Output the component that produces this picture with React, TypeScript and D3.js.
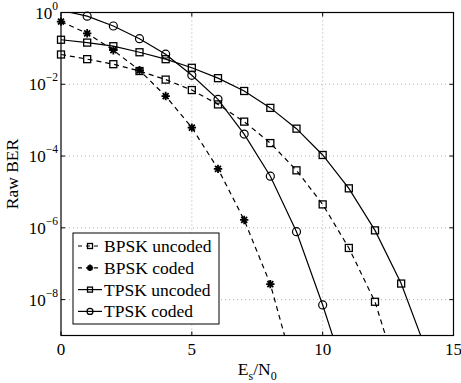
import React, { useEffect, useRef } from 'react'
import * as d3 from 'd3'

// Es/N0 (dB) and raw BER
const bpskUncodedX = [0, 1, 2, 3, 4, 5, 6, 7, 8, 9, 10, 11, 12, 13]
const bpskUncoded = [0.0676, 0.0501, 0.0363, 0.0234, 0.0135, 6.9e-3, 2.75e-3, 9.1e-4, 2.3e-4, 4.0e-5, 4.5e-6, 2.75e-7, 8.7e-9, 4e-11]

const bpskCodedX = [0, 1, 2, 3, 4, 5, 6, 7, 8, 9]
const bpskCoded = [0.56, 0.263, 0.089, 0.0245, 4.7e-3, 6.2e-4, 4.4e-5, 1.66e-6, 2.7e-8, 6.3e-11]

const tpskUncodedX = [0, 1, 2, 3, 4, 5, 6, 7, 8, 9, 10, 11, 12, 13, 14]
const tpskUncoded = [0.174, 0.145, 0.115, 0.078, 0.05, 0.0288, 0.0148, 6.5e-3, 2.2e-3, 5.8e-4, 1.07e-4, 1.26e-5, 8.5e-7, 2.8e-8, 3.2e-10]

const tpskCodedX = [0, 1, 2, 3, 4, 5, 6, 7, 8, 9, 10, 11]
const tpskCoded = [1.15, 0.79, 0.42, 0.186, 0.069, 0.0178, 3.8e-3, 4.1e-4, 2.75e-5, 7.8e-7, 7.1e-9, 4e-11]

const xTicks = [0, 5, 10, 15]
const yTickExps = [0, -2, -4, -6, -8]

const seriesNames = ['BPSK uncoded', 'BPSK coded', 'TPSK uncoded', 'TPSK coded']

export default function App() {
    const ref = useRef(null)
    const width = 461
    const height = 383
    const margin = { top: 12.5, right: 7.5, bottom: 47.5, left: 61 }
    const font = '"Liberation Serif", "Times New Roman", serif'

    useEffect(() => {
        const svg = d3.select(ref.current)
        svg.selectAll('*').remove()

        const x = d3.scaleLinear()
            .domain([0, 15])
            .range([margin.left, width - margin.right])
        const y = d3.scaleLog()
            .domain([1e-9, 1])
            .range([height - margin.bottom, margin.top])

        const x0 = margin.left, x1 = width - margin.right
        const y0 = margin.top, y1 = height - margin.bottom

        svg.append('rect').attr('x', 0).attr('y', 0).attr('width', width).attr('height', height).attr('fill', 'white')

        svg.append('defs').append('clipPath').attr('id', 'plotclip')
            .append('rect').attr('x', x0).attr('y', y0).attr('width', x1 - x0).attr('height', y1 - y0)

        // grid
        const grid = svg.append('g').attr('stroke', '#999').attr('stroke-width', 0.8).attr('stroke-dasharray', '1,3')
        xTicks.slice(1, -1).forEach(t => {
            grid.append('line').attr('x1', x(t)).attr('x2', x(t)).attr('y1', y0).attr('y2', y1)
        })
        yTickExps.slice(1).forEach(e => {
            grid.append('line').attr('x1', x0).attr('x2', x1).attr('y1', y(Math.pow(10, e))).attr('y2', y(Math.pow(10, e)))
        })

        const series = [
            { xs: bpskUncodedX, ys: bpskUncoded, dash: '5,4', marker: 'square' },
            { xs: bpskCodedX, ys: bpskCoded, dash: '5,4', marker: 'star' },
            { xs: tpskUncodedX, ys: tpskUncoded, dash: null, marker: 'square' },
            { xs: tpskCodedX, ys: tpskCoded, dash: null, marker: 'circle' },
        ]

        const line = d3.line<[number, number]>()
            .x(d => x(d[0]))
            .y(d => y(d[1]))

        const drawMarker = (g, type, cx, cy, s) => {
            if (type === 'square') {
                g.append('rect').attr('x', cx - s).attr('y', cy - s).attr('width', 2 * s).attr('height', 2 * s)
                    .attr('fill', 'none').attr('stroke', 'black').attr('stroke-width', 1.3)
            } else if (type === 'circle') {
                g.append('circle').attr('cx', cx).attr('cy', cy).attr('r', s + 0.5)
                    .attr('fill', 'none').attr('stroke', 'black').attr('stroke-width', 1.2)
            } else {
                const p = d3.path()
                const r = s + 0.7
                for (let k = 0; k < 4; k++) {
                    const a = k * Math.PI / 4
                    p.moveTo(cx - r * Math.cos(a), cy - r * Math.sin(a))
                    p.lineTo(cx + r * Math.cos(a), cy + r * Math.sin(a))
                }
                g.append('path').attr('d', p.toString()).attr('stroke', 'black').attr('stroke-width', 1.8)
            }
        }

        series.forEach(s => {
            const pts = s.xs.map((v, i) => [v, s.ys[i]] as [number, number])
            svg.append('path')
                .attr('clip-path', 'url(#plotclip)')
                .attr('d', line(pts))
                .attr('fill', 'none')
                .attr('stroke', 'black')
                .attr('stroke-width', 1.2)
                .attr('stroke-dasharray', s.dash)
            const mg = svg.append('g')
            pts.filter(d => d[1] <= 1 && d[1] >= 1e-9).forEach(d => {
                drawMarker(mg, s.marker, x(d[0]), y(d[1]), 3.5)
            })
        })

        // axes box
        svg.append('rect').attr('x', x0).attr('y', y0).attr('width', x1 - x0).attr('height', y1 - y0)
            .attr('fill', 'none').attr('stroke', 'black').attr('stroke-width', 1.2)

        // tick marks (inward)
        const tk = svg.append('g').attr('stroke', 'black').attr('stroke-width', 1)
        xTicks.forEach(t => {
            tk.append('line').attr('x1', x(t)).attr('x2', x(t)).attr('y1', y1).attr('y2', y1 - 4)
            tk.append('line').attr('x1', x(t)).attr('x2', x(t)).attr('y1', y0).attr('y2', y0 + 4)
        })
        yTickExps.forEach(e => {
            const yy = y(Math.pow(10, e))
            tk.append('line').attr('x1', x0).attr('x2', x0 + 4).attr('y1', yy).attr('y2', yy)
            tk.append('line').attr('x1', x1).attr('x2', x1 - 4).attr('y1', yy).attr('y2', yy)
        })

        // tick labels
        xTicks.forEach(t => {
            svg.append('text').attr('x', x(t)).attr('y', y1 + 19)
                .attr('text-anchor', 'middle').attr('font-family', font).attr('font-size', 17)
                .text(t)
        })
        yTickExps.forEach(e => {
            const yy = y(Math.pow(10, e))
            const tx = svg.append('text').attr('x', x0 - 3).attr('y', yy + 6)
                .attr('text-anchor', 'end').attr('font-family', font).attr('font-size', 17)
            tx.append('tspan').text('10')
            tx.append('tspan').attr('dy', -9).attr('font-size', 11.5).text(e === 0 ? '0' : '\u2212' + Math.abs(e))
        })

        // axis labels
        svg.append('text')
            .attr('transform', `translate(18,${(y0 + y1) / 2}) rotate(-90)`)
            .attr('text-anchor', 'middle').attr('font-family', font).attr('font-size', 17.5)
            .text('Raw BER')

        const xl = svg.append('text').attr('x', (x0 + x1) / 2).attr('y', 375)
            .attr('text-anchor', 'middle').attr('font-family', font).attr('font-size', 17.5)
        xl.append('tspan').text('E')
        xl.append('tspan').attr('dy', 5).attr('font-size', 12).text('s')
        xl.append('tspan').attr('dy', -5).text('/N')
        xl.append('tspan').attr('dy', 5).attr('font-size', 12).text('0')

        // legend
        const lg = svg.append('g')
        lg.append('rect').attr('x', 73).attr('y', 233).attr('width', 146).attr('height', 91)
            .attr('fill', 'white').attr('stroke', 'black').attr('stroke-width', 1)
        seriesNames.forEach((name, i) => {
            const ly = 246 + i * 21.8
            lg.append('line').attr('x1', 78).attr('x2', 102).attr('y1', ly).attr('y2', ly)
                .attr('stroke', 'black').attr('stroke-width', 1.2)
                .attr('stroke-dasharray', series[i].dash ? '4,4' : null)
            drawMarker(lg, series[i].marker, 90, ly, 2.5)
            lg.append('text').attr('x', 104).attr('y', ly + 6)
                .attr('font-family', font).attr('font-size', 17.5)
                .text(name)
        })
    })

    return (
        <div>
            <svg ref={ref} width={width} height={height}
                style={{ position: 'absolute', left: 0, top: 0 }}></svg>
        </div>
    )
}
